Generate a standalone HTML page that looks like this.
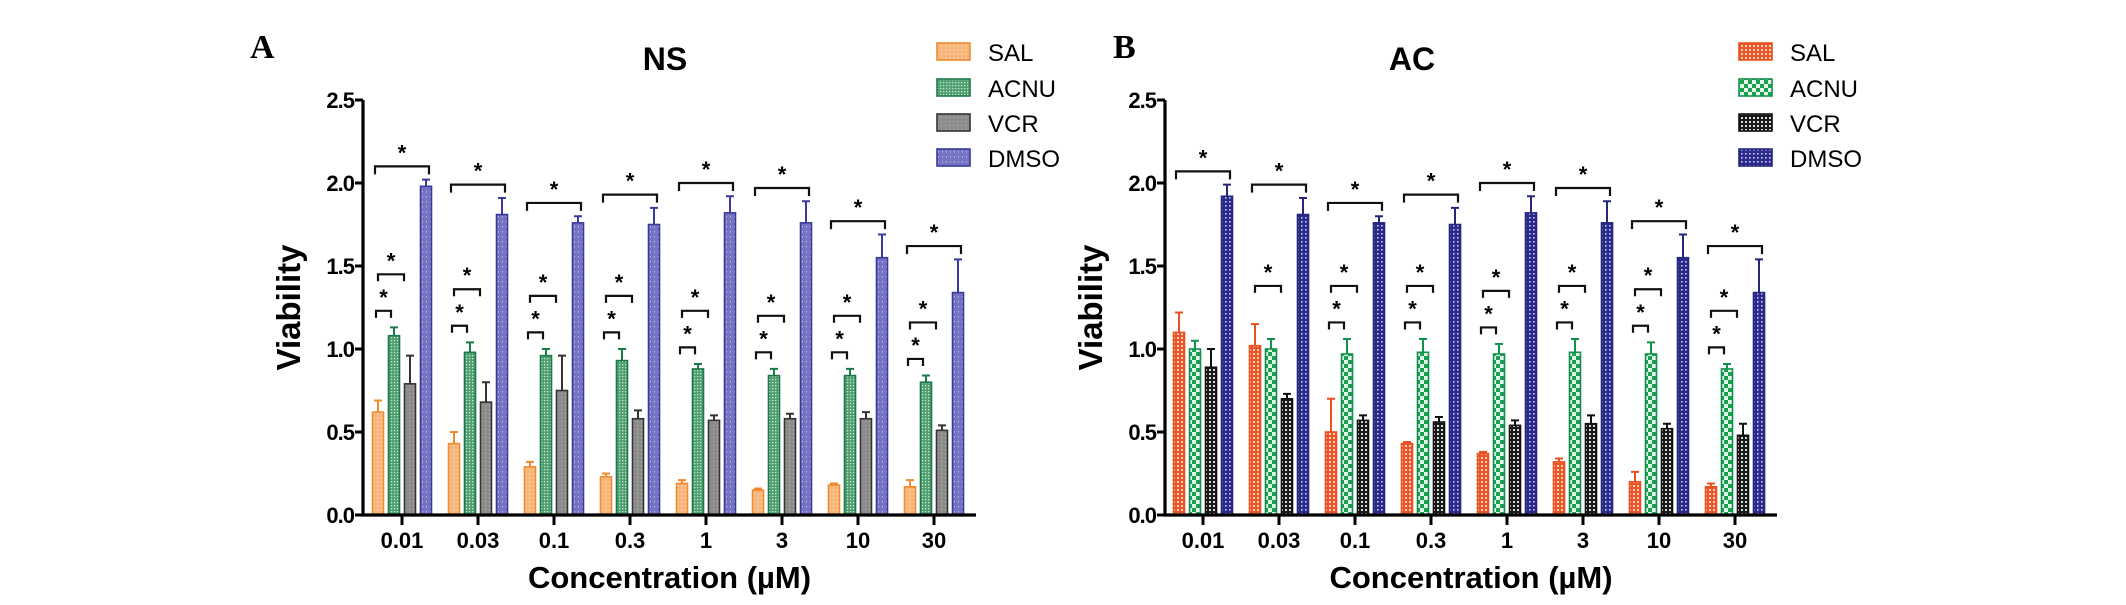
<!DOCTYPE html>
<html><head><meta charset="utf-8"><style>
html,body{margin:0;padding:0;background:#fff;}
svg{display:block;}
text{font-family:"Liberation Sans",Arial,sans-serif;}
text.serif{font-family:"Liberation Serif","Times New Roman",serif;}
</style></head><body>
<svg id="fig" width="2126" height="605" viewBox="0 0 2126 605">
<defs>
<pattern id="pA0" width="4" height="4" patternUnits="userSpaceOnUse"><rect width="4" height="4" fill="#f7b57a"/><rect x="1" y="1" width="1.5" height="1.5" fill="#fbd3a8"/></pattern>
<pattern id="pA1" width="3" height="3" patternUnits="userSpaceOnUse"><rect width="3" height="3" fill="#4f9e70"/><rect x="1" y="1" width="1.3" height="1.3" fill="#c8e6d2"/></pattern>
<pattern id="pA2" width="4" height="4" patternUnits="userSpaceOnUse"><rect width="4" height="4" fill="#8c8c8c"/><rect x="1" y="1" width="1.2" height="1.2" fill="#b0b0b0"/></pattern>
<pattern id="pA3" width="4" height="5" patternUnits="userSpaceOnUse"><rect width="4" height="5" fill="#7474c2"/><rect x="2" y="1" width="1" height="1.5" fill="#b8b8e6"/></pattern>
<pattern id="pB0" width="4" height="4" patternUnits="userSpaceOnUse"><rect width="4" height="4" fill="#ea5628"/><rect x="1" y="1" width="2" height="2" fill="#fbd0c0"/></pattern>
<pattern id="pB1" width="8" height="8" patternUnits="userSpaceOnUse"><rect width="8" height="8" fill="#17a150"/><rect x="0" y="0" width="4" height="4" fill="#e6f5ea"/><rect x="4" y="4" width="4" height="4" fill="#e6f5ea"/></pattern>
<pattern id="pB2" width="4" height="4" patternUnits="userSpaceOnUse"><rect width="4" height="4" fill="#1a1a1a"/><rect x="1" y="1" width="2" height="2" fill="#d8d8d8"/></pattern>
<pattern id="pB3" width="4" height="4" patternUnits="userSpaceOnUse"><rect width="4" height="4" fill="#2a2a8c"/><rect x="1" y="1" width="1.6" height="1.6" fill="#c8c8ec"/></pattern>
</defs>
<g id="root"></g>
</svg>
<script>
const categories = ["0.01","0.03","0.1","0.3","1","3","10","30"];
const seriesNames = ["SAL","ACNU","VCR","DMSO"];
const yTicks = [0.0,0.5,1.0,1.5,2.0,2.5];
// Panel A (NS)
const nsSAL = [0.62,0.43,0.29,0.23,0.19,0.15,0.18,0.17];
const nsSALerr = [0.07,0.07,0.03,0.02,0.02,0.01,0.01,0.04];
const nsACNU = [1.08,0.98,0.96,0.93,0.88,0.84,0.84,0.80];
const nsACNUerr = [0.05,0.06,0.04,0.07,0.03,0.04,0.04,0.04];
const nsVCR = [0.79,0.68,0.75,0.58,0.57,0.58,0.58,0.51];
const nsVCRerr = [0.17,0.12,0.21,0.05,0.03,0.03,0.04,0.03];
const nsDMSO = [1.98,1.81,1.76,1.75,1.82,1.76,1.55,1.34];
const nsDMSOerr = [0.04,0.10,0.04,0.10,0.10,0.13,0.14,0.20];
const nsLowSig = [1,1,1,1,1,1,1,1];
const nsMidSig = [1,1,1,1,1,1,1,1];
// Panel B (AC)
const acSAL = [1.10,1.02,0.50,0.43,0.37,0.32,0.20,0.17];
const acSALerr = [0.12,0.13,0.20,0.01,0.01,0.02,0.06,0.02];
const acACNU = [1.00,1.00,0.97,0.98,0.97,0.98,0.97,0.88];
const acACNUerr = [0.05,0.06,0.09,0.08,0.06,0.08,0.07,0.03];
const acVCR = [0.89,0.70,0.57,0.56,0.54,0.55,0.52,0.48];
const acVCRerr = [0.11,0.03,0.03,0.03,0.03,0.05,0.03,0.07];
const acDMSO = [1.92,1.81,1.76,1.75,1.82,1.76,1.55,1.34];
const acDMSOerr = [0.07,0.10,0.04,0.10,0.10,0.13,0.14,0.20];
const acLowSig = [0,0,1,1,1,1,1,1];
const acMidSig = [0,1,1,1,1,1,1,1];

const NS='http://www.w3.org/2000/svg';
const root=document.getElementById('root');
function el(tag,attrs,parent,txt){const e=document.createElementNS(NS,tag);for(const k in attrs)e.setAttribute(k,attrs[k]);if(txt!==undefined)e.textContent=txt;(parent||root).appendChild(e);return e;}

function panel(cfg){
  const g=el('g',{});
  
  
  const y0=515,unit=166,ax=cfg.ax,axEnd=cfg.axEnd,first=cfg.first,step=76;
  const Y=v=>y0-v*unit;
  const X=i=>first+i*step;
  const offs=[-24,-8,8,24],bw=11;
  const L=el('text',{x:cfg.letterX,y:58,'class':'serif','font-weight':'bold','font-size':'34'},g,cfg.letter);
  
  
  const T=el('text',{x:cfg.titleX,y:70,'text-anchor':'middle','font-weight':'bold','font-size':'32'},g,cfg.title);
  
  
  const series=cfg.series;
  for(let s=0;s<4;s++){
    const sg=el('g',{},g);
    
    
    for(let i=0;i<categories.length;i++){
      const v=series[s][0][i],e=series[s][1][i];
      const cx=X(i)+offs[s];
      const r=el('rect',{x:cx-bw/2,y:Y(v),width:bw,height:y0-Y(v),fill:'url(#'+cfg.pat+s+')',stroke:cfg.stroke[s],'stroke-width':'1.6'},sg);
      
      
      const eb=el('path',{d:`M${cx} ${Y(v)}V${Y(v+e)}M${cx-4} ${Y(v+e)}H${cx+4}`,stroke:cfg.stroke[s],'stroke-width':'2',fill:'none'},sg);
      
      
    }
  }
  for(let i=0;i<categories.length;i++){
    const ac=series[1][0][i]+series[1][1][i];
    const dm=series[3][0][i]+series[3][1][i];
    const low=ac+0.1;
    const mid=low+0.22;
    const top=dm+0.08;
    const br=(x1,x2,v,h)=>{const y=Y(v);
      const p=el('path',{d:`M${x1} ${y+h}V${y}H${x2}V${y+h}`,stroke:'#111','stroke-width':'2.2',fill:'none'},g);
      
      
      const s=el('text',{x:(x1+x2)/2,y:y-6,'text-anchor':'middle','font-weight':'bold','font-size':'22'},g,'*');
      
      };
    if(cfg.lowSig[i]) br(X(i)-26,X(i)-11,low,7);
    if(cfg.midSig[i]) br(X(i)-24,X(i)+2,mid,7);
    br(X(i)-27,X(i)+27,top,8);
  }
  const a=el('path',{d:`M${ax} ${Y(2.5)}V${y0}H${axEnd}`,stroke:'#000','stroke-width':'3.2',fill:'none'},g);
  
  
  yTicks.forEach(t=>{
    el('path',{d:`M${ax-8} ${Y(t)}H${ax}`,stroke:'#000','stroke-width':'3'},g);
    const tl=el('text',{x:ax-9,y:Y(t)+8,'text-anchor':'end','font-weight':'bold','font-size':'22','letter-spacing':'-1'},g,t.toFixed(1));
    
    
  });
  categories.forEach((c,i)=>{
    el('path',{d:`M${X(i)} ${y0}V${y0+10}`,stroke:'#000','stroke-width':'3'},g);
    const tl=el('text',{x:X(i),y:548,'text-anchor':'middle','font-weight':'bold','font-size':'22'},g,c);
    
    
  });
  const xt=el('text',{x:(ax+axEnd)/2,y:588,'text-anchor':'middle','font-weight':'bold','font-size':'31'},g,'Concentration (µM)');
  
  
  const yt=el('text',{x:0,y:0,'text-anchor':'middle','font-weight':'bold','font-size':'33',transform:`translate(${ax-63},${Y(1.25)}) rotate(-90)`},g,'Viability');
  
  
  const lg=el('g',{},g);
  
  
  const ly=[52,88,123,158];
  for(let s=0;s<4;s++){
    const le=el('g',{},lg);
    
    
    el('rect',{x:cfg.legX,y:ly[s]-9,width:33,height:17,fill:'url(#'+cfg.pat+s+')',stroke:cfg.stroke[s],'stroke-width':'1.6'},le);
    el('text',{x:cfg.legX+51,y:ly[s]+9,'font-size':'24'},le,seriesNames[s]);
  }
}
panel({id:'panel-a-ns',letter:'A',letterX:250,title:'NS',titleX:665,ax:363,axEnd:976,first:402,pat:'pA',
  stroke:['#f08a30','#1b7a48','#333','#3a3a9c'],legX:937,lowSig:nsLowSig,midSig:nsMidSig,
  series:[[nsSAL,nsSALerr],[nsACNU,nsACNUerr],[nsVCR,nsVCRerr],[nsDMSO,nsDMSOerr]]});
panel({id:'panel-b-ac',letter:'B',letterX:1113,title:'AC',titleX:1412,ax:1165,axEnd:1777,first:1203,pat:'pB',
  stroke:['#e8501f','#10924a','#111','#25257e'],legX:1739,lowSig:acLowSig,midSig:acMidSig,
  series:[[acSAL,acSALerr],[acACNU,acACNUerr],[acVCR,acVCRerr],[acDMSO,acDMSOerr]]});
</script>
</body></html>
